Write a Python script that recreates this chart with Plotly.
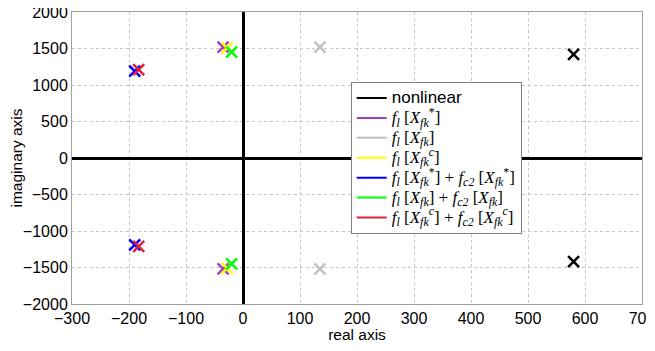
import plotly.graph_objects as go

# Data
names = [
    "<span style=\"font-family:'Liberation Sans', Arial\">nonlinear</span>",
    "<i>f<sub>l</sub></i> [<i>X<sub>fk</sub></i><sup>*</sup>]",
    "<i>f<sub>l</sub></i> [<i>X<sub>fk</sub></i>]",
    "<i>f<sub>l</sub></i> [<i>X<sub>fk</sub><sup>c</sup></i>]",
    "<i>f<sub>l</sub></i> [<i>X<sub>fk</sub></i><sup>*</sup>] + <i>f<sub>c2</sub></i> [<i>X<sub>fk</sub></i><sup>*</sup>]",
    "<i>f<sub>l</sub></i> [<i>X<sub>fk</sub></i>] + <i>f<sub>c2</sub></i> [<i>X<sub>fk</sub></i>]",
    "<i>f<sub>l</sub></i> [<i>X<sub>fk</sub><sup>c</sup></i>] + <i>f<sub>c2</sub></i> [<i>X<sub>fk</sub><sup>c</sup></i>]",
]
colors = ["#000000", "#a040c0", "#c0c0c0", "#ffff00", "#0000ff", "#00ff00", "#e0203a"]
real_parts = [580, -35, 135, -28, -190, -20, -183]
imag_parts = [1420, 1520, 1520, 1510, 1190, 1450, 1210]

x_ticks = [-300, -200, -100, 0, 100, 200, 300, 400, 500, 600, 700]
y_ticks = [-2000, -1500, -1000, -500, 0, 500, 1000, 1500, 2000]

fig = go.Figure()

draw_order = [1, 2, 3, 4, 5, 6, 0]
for i in draw_order:
    fig.add_trace(go.Scatter(
        x=[real_parts[i], real_parts[i]], y=[imag_parts[i], -imag_parts[i]],
        mode="markers", showlegend=False, cliponaxis=False,
        marker=dict(symbol="x-thin", size=11, line=dict(width=2.5, color=colors[i])),
    ))

for i in range(len(names)):
    fig.add_trace(go.Scatter(
        x=[None], y=[None], mode="lines",
        name='<span style="font-size:17px">' + names[i] + "</span>",
        line=dict(color=colors[i], width=2),
    ))

sans = "Liberation Sans, Arial"
axis_common = dict(
    showgrid=True, gridcolor="#c4c4d8", griddash="dot", gridwidth=1,
    zeroline=True, zerolinecolor="black", zerolinewidth=2.5,
    showline=True, linecolor="#a0a0a0", linewidth=1, mirror=True,
    ticks="", automargin=False, ticklabeloverflow="allow",
    tickfont=dict(family=sans, size=16, color="black"),
)

fig.update_xaxes(range=[-300, 700], tickvals=x_ticks,
                 title=dict(text="real axis", font=dict(family=sans, size=15.5, color="black"), standoff=2),
                 **axis_common)
fig.update_yaxes(range=[-2000, 2000], tickvals=y_ticks,
                 title=dict(text="imaginary axis", font=dict(family=sans, size=15.5, color="black"), standoff=5),
                 **axis_common)

fig.update_layout(
    width=647, height=335,
    margin=dict(l=64, r=13, t=4, b=39),
    plot_bgcolor="white", paper_bgcolor="white",
    legend=dict(x=0.489, y=0.76, xanchor="left", yanchor="top",
                bgcolor="white", bordercolor="#808080", borderwidth=1,
                font=dict(family="Liberation Serif, Times New Roman", size=13, color="black"),
                tracegroupgap=0, itemwidth=30),
)

fig.write_html("out.html")
